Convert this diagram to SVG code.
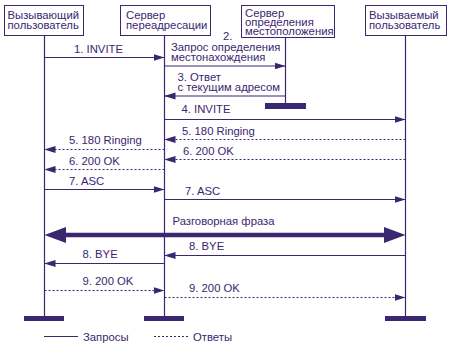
<svg xmlns="http://www.w3.org/2000/svg" width="457" height="356" viewBox="0 0 457 356">
<style>
text{font-family:"Liberation Sans",Arial,sans-serif;font-size:11.3px;fill:#3b2670}
.box{fill:#fff;stroke:#3b2670;stroke-width:1}
.life{stroke:#3b2670;stroke-width:1.2}
.bar{fill:#3b2670}
.req{stroke:#3b2670;stroke-width:1.2;fill:none;marker-end:url(#ah)}
.rsp{stroke:#3b2670;stroke-width:1.2;fill:none;stroke-dasharray:2 2;marker-end:url(#ah)}
</style>
<defs>
<marker id="ah" viewBox="0 0 11 8" refX="11" refY="4" markerWidth="11" markerHeight="8" markerUnits="userSpaceOnUse" orient="auto">
<path d="M0,0.5 L11,4 L0,7.5 Z" fill="#3b2670"/>
</marker>
</defs>
<rect width="457" height="356" fill="#fff"/>
<g id="caller">
<rect class="box" x="4.5" y="5.5" width="79" height="30"/>
<text x="7.5" y="19">Вызывающий</text>
<text x="7.5" y="28.5">пользователь</text>
<line class="life" x1="44.5" y1="35.5" x2="44.5" y2="317"/>
<rect class="bar" x="24" y="316" width="40" height="5"/>
</g>
<g id="redirect">
<rect class="box" x="120.5" y="5.5" width="90" height="30"/>
<text x="126" y="19">Сервер</text>
<text x="126" y="28.5">переадресации</text>
<line class="life" x1="164.5" y1="35.5" x2="164.5" y2="317"/>
<rect class="bar" x="144" y="316" width="40" height="5"/>
</g>
<g id="location">
<rect class="box" x="241.5" y="5.5" width="93" height="32"/>
<text x="245" y="16.5">Сервер</text>
<text x="245" y="25.5">определения</text>
<text x="245" y="34.5">местоположения</text>
<line class="life" x1="285.5" y1="37.5" x2="285.5" y2="104"/>
<rect class="bar" x="265" y="103" width="41" height="6"/>
</g>
<g id="callee">
<rect class="box" x="365.5" y="5.5" width="81" height="30"/>
<text x="369" y="19">Вызываемый</text>
<text x="369" y="28.5">пользователь</text>
<line class="life" x1="405.5" y1="35.5" x2="405.5" y2="317"/>
<rect class="bar" x="385" y="316" width="41" height="5"/>
</g>
<g id="connectors">
<line class="req" x1="44.5" y1="57.5" x2="164.5" y2="57.5"/>
<text x="74" y="52.5">1. INVITE</text>
<line class="req" x1="164.5" y1="66" x2="285.5" y2="66"/>
<text x="223" y="39.5">2.</text>
<text x="171" y="50.5">Запрос определения</text>
<text x="171" y="60.5">местонахождения</text>
<line class="req" x1="285.5" y1="96" x2="164.5" y2="96"/>
<text x="177.5" y="81">3. Ответ</text>
<text x="177.5" y="91">с текущим адресом</text>
<line class="req" x1="164.5" y1="119.5" x2="405.5" y2="119.5"/>
<text x="181.5" y="112.5">4. INVITE</text>
<line class="rsp" x1="405.5" y1="139.5" x2="164.5" y2="139.5"/>
<text x="182" y="135">5. 180 Ringing</text>
<line class="rsp" x1="164.5" y1="149.5" x2="44.5" y2="149.5"/>
<text x="69" y="144">5. 180 Ringing</text>
<line class="rsp" x1="405.5" y1="159.5" x2="164.5" y2="159.5"/>
<text x="183" y="155">6. 200 OK</text>
<line class="rsp" x1="164.5" y1="169.5" x2="44.5" y2="169.5"/>
<text x="69" y="164.5">6. 200 OK</text>
<line class="req" x1="44.5" y1="189.5" x2="164.5" y2="189.5"/>
<text x="69" y="185">7. ASC</text>
<line class="req" x1="164.5" y1="199.5" x2="405.5" y2="199.5"/>
<text x="185" y="194.5">7. ASC</text>
<g id="conversation">
<line x1="60" y1="235" x2="390" y2="235" stroke="#3b2670" stroke-width="4.5"/>
<path d="M44.5,235 L66,227 L66,243 Z" fill="#3b2670"/>
<path d="M405.5,235 L384,227 L384,243 Z" fill="#3b2670"/>
<text x="172.5" y="225">Разговорная фраза</text>
</g>
<line class="req" x1="405.5" y1="255.5" x2="164.5" y2="255.5"/>
<text x="189" y="249.5">8. BYE</text>
<line class="req" x1="164.5" y1="263.5" x2="44.5" y2="263.5"/>
<text x="82.5" y="257.5">8. BYE</text>
<line class="rsp" x1="44.5" y1="290.5" x2="164.5" y2="290.5"/>
<text x="82.5" y="284.5">9. 200 OK</text>
<line class="rsp" x1="164.5" y1="297.5" x2="405.5" y2="297.5"/>
<text x="189" y="291.5">9. 200 OK</text>
</g>
<g id="legend">
<line x1="44" y1="336.5" x2="78" y2="336.5" stroke="#3b2670" stroke-width="1.2"/>
<text x="83" y="340.5">Запросы</text>
<line x1="154" y1="336.5" x2="188" y2="336.5" stroke="#3b2670" stroke-width="1.2" stroke-dasharray="2 2"/>
<text x="193" y="340.5">Ответы</text>
</g>
</svg>
